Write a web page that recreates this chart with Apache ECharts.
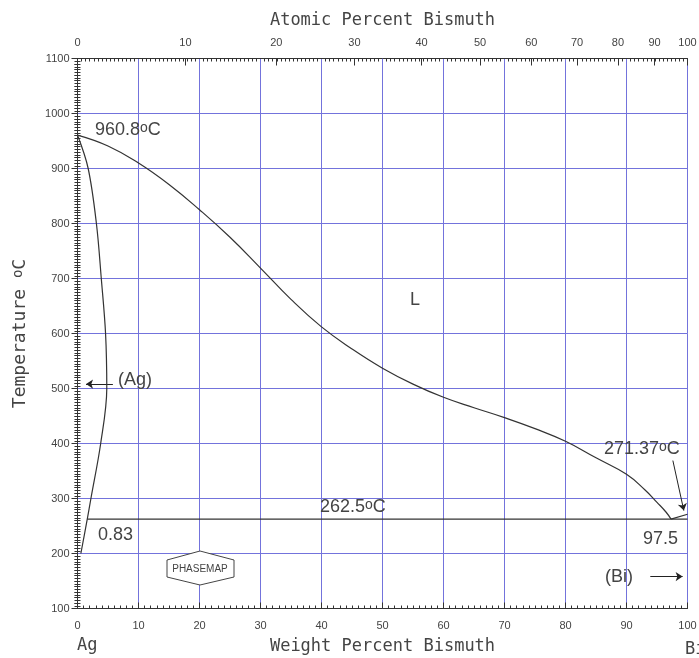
<!DOCTYPE html>
<html>
<head>
<meta charset="utf-8">
<script src="https://cdn.jsdelivr.net/npm/echarts@6/dist/echarts.min.js"></script>
<style>
  html, body { margin: 0; background: #fff; }
  #main { width: 699px; height: 658px; }
</style>
</head>
<body>
<div id="main"></div>
<script>
// Ag-Bi phase diagram, weight % Bi vs temperature
var liquidusWt = [0, 5, 10, 15, 20, 25, 30, 35, 40, 45, 50, 55, 60, 65, 70, 75, 80, 85, 90, 93, 95, 96.5, 97.3];
var liquidusT = [960.8, 941, 910, 871, 825, 775, 719, 662, 612, 572, 537, 508, 484, 465, 447, 427, 404, 374, 344, 316, 293, 275, 262.5];
var biLiquidusWt = [97.3, 100];
var biLiquidusT = [262.5, 271.37];
var solvusWt = [0, 1.75, 3.1, 3.9, 4.6, 4.8, 3.8, 2.2, 1.6, 0.55];
var solvusT = [960.8, 900, 800, 700, 600, 500, 400, 300, 262.5, 200];
var eutecticWt = [1.6, 100];
var eutecticT = [262.5, 262.5];

// top axis: atomic percent labels and where they sit in weight percent
var atomicLabels = ['0', '10', '20', '30', '40', '50', '60', '70', '80', '90', '100'];
var atomicAtWt = [0, 17.7, 32.6, 45.4, 56.4, 66.0, 74.4, 81.9, 88.6, 94.6, 100];

// pointer arrows [fromWt, fromT, toWt, toT]
var arrowBi271 = [97.6, 369, 99.4, 278];
var arrowAg = [5.8, 508, 1.4, 508];
var arrowBi = [93.9, 158, 99.2, 158];

function pairs(xs, ys) {
  return xs.map(function (x, i) { return [x, ys[i]]; });
}
function arrow(a) {
  return { coords: [[a[0], a[1]], [a[2], a[3]]] };
}

var chartDom = document.getElementById('main');
var myChart = echarts.init(chartDom);
var option;

var ink = '#333';
var gridBlue = '#7373dc';
var labelFont = 'Liberation Sans';
var titleFont = 'DejaVu Sans Mono';
var sup = { fontSize: 14, lineHeight: 13, verticalAlign: 'top', fontFamily: labelFont, color: '#444' };

function note(text, x, y, align) {
  return {
    type: 'text', x: x, y: y, z: 100,
    style: {
      text: text, fill: '#444', font: '18px ' + labelFont,
      align: align || 'left', verticalAlign: 'middle',
      rich: { s: sup }
    }
  };
}

option = {
  animation: false,
  grid: { left: 77.5, right: 11.5, top: 58.5, bottom: 49.5, outerBoundsMode: 'none' },
  xAxis: [
    {
      type: 'value', position: 'bottom', min: 0, max: 100, interval: 10,
      name: 'Weight Percent Bismuth', nameLocation: 'middle', nameGap: 30,
      nameTextStyle: { fontFamily: titleFont, fontSize: 17, color: '#444' },
      axisLine: { lineStyle: { color: ink } },
      axisTick: { inside: true, length: 6, lineStyle: { color: ink } },
      minorTick: { show: true, splitNumber: 10, length: 3, lineStyle: { color: ink } },
      axisLabel: { fontFamily: labelFont, fontSize: 11, color: '#444', margin: 12 },
      splitLine: { show: true, lineStyle: { color: gridBlue, width: 1 } }
    },
    {
      type: 'value', position: 'top', min: 0, max: 100,
      name: 'Atomic Percent Bismuth', nameLocation: 'middle', nameGap: 29,
      nameTextStyle: { fontFamily: titleFont, fontSize: 17, color: '#444' },
      axisLine: { lineStyle: { color: ink } },
      axisTick: { inside: true, length: 7, customValues: atomicAtWt, lineStyle: { color: ink } },
      axisLabel: {
        fontFamily: labelFont, fontSize: 11, color: '#444', margin: 10,
        customValues: atomicAtWt,
        formatter: function (v) {
          var i = atomicAtWt.indexOf(v);
          return i >= 0 ? atomicLabels[i] : '';
        }
      },
      splitLine: { show: false }
    },
    {
      type: 'value', position: 'top', min: 0, max: 100, interval: 10,
      axisLine: { show: false },
      axisTick: { show: false, inside: true },
      minorTick: { show: true, splitNumber: 15, length: 3, lineStyle: { color: ink } },
      axisLabel: { show: false },
      splitLine: { show: false }
    }
  ],
  yAxis: [
    {
      type: 'value', position: 'left', min: 100, max: 1100, interval: 100,
      name: 'Temperature {s|o}C', nameLocation: 'middle', nameGap: 48, nameRotate: 90,
      nameTextStyle: {
        fontFamily: titleFont, fontSize: 18, color: '#444',
        rich: { s: { fontFamily: titleFont, fontSize: 14, color: '#444', lineHeight: 12, verticalAlign: 'top' } }
      },
      axisLine: { lineStyle: { color: ink } },
      axisTick: { inside: false, length: 4, lineStyle: { color: ink } },
      minorTick: { show: true, splitNumber: 20, length: 3, lineStyle: { color: ink } },
      axisLabel: {
        fontFamily: labelFont, fontSize: 11, color: '#444', margin: 8,
        formatter: function (v) { return String(v); }
      },
      splitLine: { show: true, lineStyle: { color: gridBlue, width: 1 } }
    },
    {
      type: 'value', position: 'right', min: 100, max: 1100, interval: 100,
      axisLine: { show: true, lineStyle: { color: ink } },
      axisTick: { inside: true, length: 6, lineStyle: { color: ink } },
      minorTick: { show: true, splitNumber: 10, length: 3, lineStyle: { color: ink } },
      axisLabel: { show: false },
      splitLine: { show: false }
    },
    {
      type: 'value', position: 'left', min: 100, max: 1100, interval: 100,
      axisLine: { show: false },
      axisTick: { show: false, inside: true },
      minorTick: { show: true, splitNumber: 20, length: 3, lineStyle: { color: ink } },
      axisLabel: { show: false },
      splitLine: { show: false }
    }
  ],
  series: [
    {
      name: 'liquidus', type: 'line', smooth: 0.45, symbol: 'none',
      lineStyle: { color: ink, width: 1.2 },
      data: pairs(liquidusWt, liquidusT)
    },
    {
      name: 'liquidus Bi', type: 'line', symbol: 'none',
      lineStyle: { color: ink, width: 1.2 },
      data: pairs(biLiquidusWt, biLiquidusT)
    },
    {
      name: 'solvus', type: 'line', smooth: 0.35, symbol: 'none',
      lineStyle: { color: ink, width: 1.2 },
      data: pairs(solvusWt, solvusT)
    },
    {
      name: 'eutectic', type: 'line', symbol: 'none',
      lineStyle: { color: ink, width: 1.2 },
      data: pairs(eutecticWt, eutecticT)
    },
    {
      name: 'arrows', type: 'lines', coordinateSystem: 'cartesian2d',
      symbol: ['none', 'arrow'], symbolSize: 7,
      lineStyle: { color: '#222', width: 1, opacity: 1 },
      data: [arrow(arrowBi271), arrow(arrowAg), arrow(arrowBi)]
    }
  ],
  graphic: [
    note('960.8{s|o}C', 95, 130),
    note('L', 415, 300, 'center'),
    note('(Ag)', 118, 380),
    note('0.83', 98, 535),
    note('262.5{s|o}C', 320, 507),
    note('271.37{s|o}C', 604, 449),
    note('97.5', 643, 539),
    note('(Bi)', 605, 577),
    {
      type: 'text', x: 77, y: 646,
      style: { text: 'Ag', fill: '#444', font: '17px ' + titleFont, verticalAlign: 'middle' }
    },
    {
      type: 'text', x: 685, y: 650,
      style: { text: 'Bi', fill: '#444', font: '17px ' + titleFont, verticalAlign: 'middle' }
    },
    {
      type: 'polygon', z: 100,
      shape: { points: [[167, 560], [200, 551], [234, 560], [234, 577], [200, 585], [167, 577]] },
      style: { fill: '#fff', stroke: '#444', lineWidth: 1 }
    },
    {
      type: 'text', x: 200, y: 569, z: 101,
      style: { text: 'PHASEMAP', fill: '#444', font: '10px ' + labelFont, align: 'center', verticalAlign: 'middle' }
    }
  ]
};

option && myChart.setOption(option);
</script>
</body>
</html>
